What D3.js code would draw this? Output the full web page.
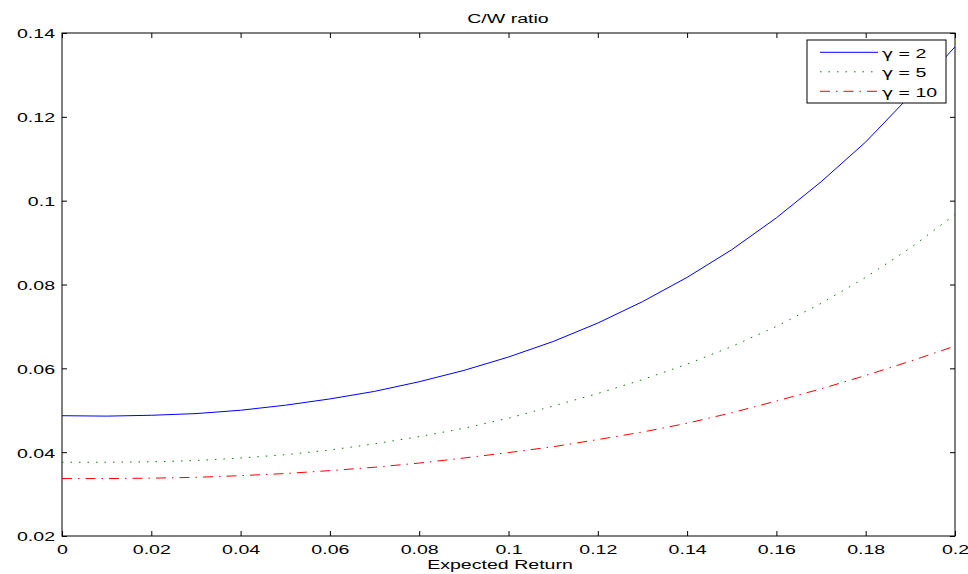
<!DOCTYPE html>
<html>
<head>
<meta charset="utf-8">
<script src="https://cdn.jsdelivr.net/npm/d3@7"></script>
<style>
  body { margin: 0; background: #fff; }
  text { font-family: "Liberation Sans", Arial, sans-serif; fill: #000; }
</style>
</head>
<body>
<svg id="chart"></svg>
<script>
// expected return grid
const returns = [0, 0.01, 0.02, 0.03, 0.04, 0.05, 0.06, 0.07, 0.08, 0.09, 0.1,
                 0.11, 0.12, 0.13, 0.14, 0.15, 0.16, 0.17, 0.18, 0.19, 0.2];

// C/W ratio for each gamma
const gamma2 = [0.0487, 0.0486, 0.0488, 0.0492, 0.0500, 0.0512, 0.0527, 0.0545, 0.0568, 0.0595, 0.0627,
                0.0664, 0.0708, 0.0759, 0.0817, 0.0883, 0.0959, 0.1045, 0.1140, 0.1251, 0.1367];
const gamma5 = [0.0376, 0.0376, 0.0377, 0.0380, 0.0386, 0.0394, 0.0405, 0.0420, 0.0437, 0.0457, 0.0481,
                0.0510, 0.0540, 0.0573, 0.0610, 0.0652, 0.0700, 0.0755, 0.0817, 0.0887, 0.0967];
const gamma10 = [0.0337, 0.0337, 0.0338, 0.0340, 0.0344, 0.0349, 0.0356, 0.0364, 0.0374, 0.0386, 0.0399,
                 0.0413, 0.0430, 0.0448, 0.0469, 0.0494, 0.0522, 0.0551, 0.0583, 0.0617, 0.0653];

const gammaValues = ["2", "5", "10"];
const xTicks = [0, 0.02, 0.04, 0.06, 0.08, 0.1, 0.12, 0.14, 0.16, 0.18, 0.2];
const yTicks = [0.02, 0.04, 0.06, 0.08, 0.1, 0.12, 0.14];

const width = 968, height = 574;
const pLeft = 62, pRight = 955, pTop = 33, pBottom = 536;
// the original text is wide and short, so glyphs get stretched sideways
const fontSize = "13.5px", sx = 1.45;

const svg = d3.select("#chart").attr("width", width).attr("height", height);

const x = d3.scaleLinear().domain([0, 0.2]).range([pLeft, pRight]);
const y = d3.scaleLinear().domain([0.02, 0.14]).range([pBottom, pTop]);

const fmt = d => String(+d.toFixed(2));

// axes with inward ticks, mirrored on top and right
const gx = svg.append("g").attr("transform", `translate(0,${pBottom})`)
   .call(d3.axisBottom(x).tickValues(xTicks).tickSizeInner(-5).tickSizeOuter(0).tickPadding(8).tickFormat(fmt));
svg.append("g").attr("transform", `translate(0,${pTop})`)
   .call(d3.axisTop(x).tickValues(xTicks).tickSizeInner(-5).tickSizeOuter(0).tickFormat(""));
const gy = svg.append("g").attr("transform", `translate(${pLeft},0)`)
   .call(d3.axisLeft(y).tickValues(yTicks).tickSizeInner(-5).tickSizeOuter(0).tickPadding(7).tickFormat(fmt));
svg.append("g").attr("transform", `translate(${pRight},0)`)
   .call(d3.axisRight(y).tickValues(yTicks).tickSizeInner(-5).tickSizeOuter(0).tickFormat(""));

svg.selectAll(".domain").remove();
svg.selectAll(".tick line").attr("stroke", "#000");
svg.selectAll(".tick text")
   .style("font-size", fontSize)
   .style("font-family", "'Liberation Sans', Arial, sans-serif");
gx.selectAll(".tick text").attr("transform", `scale(${sx},1)`);
gy.selectAll(".tick text").attr("x", -7 / sx).attr("dy", "0.36em").attr("transform", `scale(${sx},1)`);

svg.append("rect")
   .attr("x", pLeft).attr("y", pTop)
   .attr("width", pRight - pLeft).attr("height", pBottom - pTop)
   .attr("fill", "none").attr("stroke", "#000").attr("stroke-width", 1);

const series = [
  { g: gammaValues[0], values: gamma2, color: "#0000ff", dash: null },
  { g: gammaValues[1], values: gamma5, color: "#008000", dash: "1.5,7" },
  { g: gammaValues[2], values: gamma10, color: "#ff0000", dash: "10,6,1.5,6" }
];

const line = d3.line()
  .x((d, i) => x(returns[i]))
  .y(d => y(d));

svg.append("clipPath").attr("id", "clip")
  .append("rect").attr("x", pLeft).attr("y", pTop).attr("width", pRight - pLeft).attr("height", pBottom - pTop);

svg.append("g").attr("clip-path", "url(#clip)")
   .selectAll("path")
   .data(series)
   .enter()
   .append("path")
   .attr("d", d => line(d.values))
   .attr("fill", "none")
   .attr("stroke", d => d.color)
   .attr("stroke-width", 1)
   .attr("stroke-dasharray", d => d.dash);

function label(parent, tx, ty, str, anchor) {
  return parent.append("text")
    .attr("transform", `translate(${tx},${ty}) scale(${sx},1)`)
    .attr("text-anchor", anchor || "start")
    .style("font-size", fontSize)
    .text(str);
}

// legend
const lg = svg.append("g").attr("transform", "translate(807,40)");
lg.append("rect").attr("width", 139).attr("height", 63)
  .attr("fill", "#fff").attr("stroke", "#000").attr("stroke-width", 1);
series.forEach((s, i) => {
  const yy = 12.3 + i * 19.5;
  lg.append("line")
    .attr("x1", 13).attr("x2", 71).attr("y1", yy).attr("y2", yy)
    .attr("stroke", s.color).attr("stroke-width", 1)
    .attr("stroke-dasharray", s.dash);
  const t = label(lg, 75, yy + 5.3, "");
  t.append("tspan").style("font-family", "'DejaVu Sans', sans-serif").style("font-size", "13px").text("\u03B3");
  t.append("tspan").text(" = " + s.g);
});

// title and axis label
label(svg, 508, 23, "C/W ratio", "middle");
label(svg, 500, 569, "Expected Return", "middle");
</script>
</body>
</html>
